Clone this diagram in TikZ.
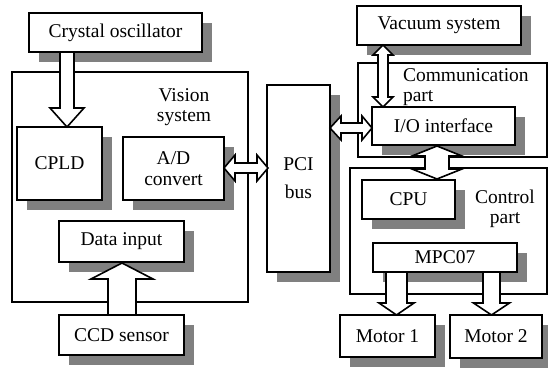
\documentclass[tikz,border=0pt]{standalone}
\usepackage{fontspec}
\setmainfont{Liberation Serif}
\usetikzlibrary{shadows}
\begin{document}
\begin{tikzpicture}[x=1pt,y=-1pt,
  every node/.style={font=\fontsize{19.5}{20}\selectfont, inner sep=0pt, outer sep=0pt},
  frame/.style={draw, fill=white, line width=1.6pt, anchor=north west},
  box/.style={draw, fill=white, line width=1.6pt, anchor=north west, align=center,
    drop shadow={shadow xshift=10pt, shadow yshift=-10pt, fill=gray, draw=none, opacity=1}},
  barrow/.style={draw, fill=white, line width=1.6pt, line join=miter},
  lbl/.style={align=center}]
\useasboundingbox (0,0) rectangle (548,369);
% containers
\node[frame, minimum width=236pt, minimum height=230pt] (vision) at (12,72) {};
\node[frame, minimum width=189pt, minimum height=94pt] (comm) at (358,63) {};
\node[frame, minimum width=197pt, minimum height=126pt] (control) at (350,168) {};
% labels of containers
\node[lbl, font=\fontsize{19.5}{20}\selectfont] (visionlbl) at (184,107) {Vision\\system};
\node[align=left, anchor=west, font=\fontsize{19.5}{19.5}\selectfont] (commlbl) at (403,87) {Communication\\part};
\node[lbl, font=\fontsize{19.5}{20.5}\selectfont] (controllbl) at (505,209) {Control\\part};
% blocks
\node[box, minimum width=173pt, minimum height=39pt] (crystal) at (29,13) {Crystal oscillator};
\node[box, minimum width=85pt, minimum height=73pt] (cpld) at (17,127) {CPLD};
\node[box, minimum width=101pt, minimum height=63pt, font=\fontsize{19.5}{21}\selectfont] (ad) at (123,137) {A/D\\convert};
\node[box, minimum width=125pt, minimum height=41pt] (datain) at (59,221) {Data input};
\node[box, minimum width=125pt, minimum height=40pt] (ccd) at (59,315) {CCD sensor};
\node[box, minimum width=63pt, minimum height=187pt, font=\fontsize{19.5}{28}\selectfont] (pci) at (267,85) {PCI\\bus};
\node[box, minimum width=164pt, minimum height=39pt] (vacuum) at (357,6) {Vacuum system};
\node[box, minimum width=143pt, minimum height=38pt] (io) at (372,107) {I/O interface};
\node[box, minimum width=93pt, minimum height=39pt] (cpu) at (362,180) {CPU};
\node[box, minimum width=144pt, minimum height=29pt] (mpc) at (373,243) {MPC07};
\node[box, minimum width=95pt, minimum height=42pt] (m1) at (340,315) {Motor 1};
\node[box, minimum width=92pt, minimum height=43pt] (m2) at (450,315) {Motor 2};
% block arrows
\draw[barrow] (60,52)--(60,108)--(50,108)--(67,127)--(84,108)--(74,108)--(74,52)--cycle;
\draw[barrow] (108,315)--(108,279)--(91,279)--(122,263)--(153,279)--(136,279)--(136,315)--cycle;
\draw[barrow] (224,168)--(235,155)--(235,163)--(257,163)--(257,155)--(268,168)--(257,181)--(257,173)--(235,173)--(235,181)--cycle;
\draw[barrow] (330,128)--(341,116)--(341,123)--(362,123)--(362,116)--(372,128)--(362,140)--(362,133)--(341,133)--(341,140)--cycle;
\draw[barrow] (383,45)--(393,55)--(388,55)--(388,97)--(393,97)--(383,107)--(373,97)--(378,97)--(378,55)--(373,55)--cycle;
\draw[barrow] (437,146)--(462,156)--(449,156)--(449,169)--(462,169)--(437,179)--(412,169)--(425,169)--(425,156)--(412,156)--cycle;
\draw[barrow] (386,272)--(386,303)--(379,303)--(396.5,315)--(414,303)--(407,303)--(407,272)--cycle;
\draw[barrow] (483,272)--(483,303)--(473.5,303)--(491.5,315)--(509.5,303)--(500,303)--(500,272)--cycle;
\end{tikzpicture}
\end{document}
